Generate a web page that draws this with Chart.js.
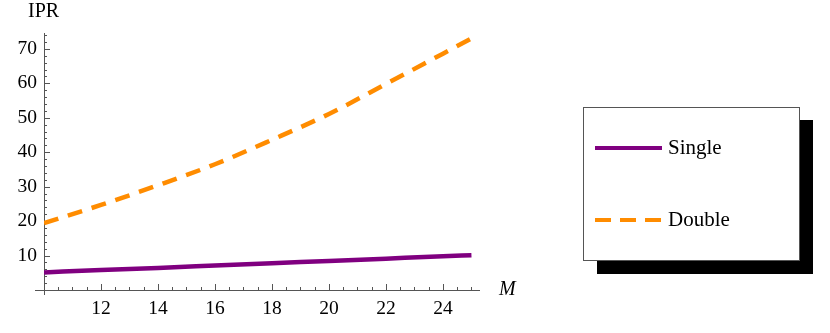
<!DOCTYPE html>
<html>
<head>
<meta charset="utf-8">
<script src="https://cdn.jsdelivr.net/npm/chart.js@4.4.1/dist/chart.umd.min.js"></script>
<style>
  body { margin: 0; background: #fff; }
  #wrap { width: 830px; height: 333px; }
</style>
</head>
<body>
<div id="wrap"><canvas id="myChart" width="830" height="333"></canvas></div>
<script>
// valores
const mValues = [10, 12, 14, 16, 18, 20, 22, 24, 25];
const singleIPR = [5.1, 5.8, 6.4, 7.1, 7.8, 8.4, 9.1, 9.8, 10.1];
const doubleIPR = [19.4, 24.7, 30.4, 36.5, 43.6, 51.1, 59.8, 68.6, 73.0];
const xTicks = [12, 14, 16, 18, 20, 22, 24];
const yTicks = [10, 20, 30, 40, 50, 60, 70];
const seriesNames = ['Single', 'Double'];

const serif = "'Liberation Serif', 'DejaVu Serif', serif";

function pts(ys) {
  return mValues.map((m, i) => ({ x: m, y: ys[i] }));
}

// eixos estilo mathematica, legenda com sombra
const estilo = {
  id: 'estilo',
  beforeDatasetsDraw(chart) {
    const c = chart.ctx;
    const xs = chart.scales.x, ys = chart.scales.y;
    const x0 = xs.getPixelForValue(10), y0 = ys.getPixelForValue(0);
    c.save();
    c.strokeStyle = '#555';
    c.lineWidth = 1;
    c.beginPath();
    c.moveTo(x0 - 9, y0 + 0.5); c.lineTo(xs.right, y0 + 0.5);
    c.moveTo(x0 + 0.5, y0 + 5); c.lineTo(x0 + 0.5, ys.top);
    // ticks do x
    for (let v = 10.5; v <= xs.max; v += 0.5) {
      const px = Math.round(xs.getPixelForValue(v)) + 0.5;
      const len = (v % 2 === 0) ? 6 : 3;
      c.moveTo(px, y0); c.lineTo(px, y0 - len);
    }
    // ticks do y
    for (let v = 2; v <= ys.max; v += 2) {
      const py = Math.round(ys.getPixelForValue(v)) + 0.5;
      const len = (v % 10 === 0) ? 6 : 3;
      c.moveTo(x0, py); c.lineTo(x0 + len, py);
    }
    c.stroke();

    c.fillStyle = '#000';
    c.font = '20px ' + serif;
    c.textAlign = 'left';
    c.textBaseline = 'alphabetic';
    c.fillText('IPR', 28, 17);
    c.font = 'italic 20px ' + serif;
    c.fillText('M', 499, 295);
    c.restore();
  },
  afterDraw(chart) {
    const c = chart.ctx;
    c.save();
    c.fillStyle = '#000';
    c.fillRect(597, 120, 216, 154);
    c.fillStyle = '#fff';
    c.fillRect(583, 107, 217, 154);
    c.strokeStyle = '#555';
    c.lineWidth = 1;
    c.strokeRect(583.5, 107.5, 216, 153);
    const rows = [148, 220];
    chart.data.datasets.forEach((ds, i) => {
      const y = rows[i];
      c.strokeStyle = ds.borderColor;
      c.lineWidth = 4;
      c.setLineDash(i === 1 ? [16, 9] : []);
      c.beginPath();
      c.moveTo(595, y); c.lineTo(662, y);
      c.stroke();
      c.setLineDash([]);
      c.fillStyle = '#000';
      c.font = '21px ' + serif;
      c.textBaseline = 'alphabetic';
      c.fillText(ds.label, 668, y + 5.5);
    });
    c.restore();
  }
};

const ctx = document.getElementById('myChart');
new Chart(ctx, {
  type: 'line',
  data: {
    datasets: [{
      label: seriesNames[0],
      data: pts(singleIPR),
      borderColor: '#800080',
      borderWidth: 4.5,
      pointRadius: 0,
      cubicInterpolationMode: 'monotone',
      fill: false
    }, {
      label: seriesNames[1],
      data: pts(doubleIPR),
      borderColor: '#ff8c00',
      borderWidth: 4.5,
      borderDash: [15, 10],
      pointRadius: 0,
      cubicInterpolationMode: 'monotone',
      fill: false
    }]
  },
  options: {
    responsive: false,
    animation: false,
    layout: { padding: { top: 33, right: 350, left: 0, bottom: 0 } },
    plugins: { legend: { display: false }, tooltip: { enabled: false } },
    scales: {
      x: {
        type: 'linear',
        min: 10,
        max: 25.3,
        grid: { display: false, drawTicks: false },
        border: { display: false },
        afterBuildTicks: s => { s.ticks = xTicks.map(v => ({ value: v })); },
        afterFit: s => { s.height = 43; },
        ticks: { color: '#000', padding: 7, maxRotation: 0, font: { family: serif, size: 19.5 } }
      },
      y: {
        min: 0,
        max: 74.6,
        grid: { display: false, drawTicks: false },
        border: { display: false },
        afterBuildTicks: s => { s.ticks = yTicks.map(v => ({ value: v })); },
        afterFit: s => { s.width = 44; },
        ticks: { color: '#000', padding: 7, font: { family: serif, size: 19.5 } }
      }
    }
  },
  plugins: [estilo]
});
</script>
</body>
</html>
